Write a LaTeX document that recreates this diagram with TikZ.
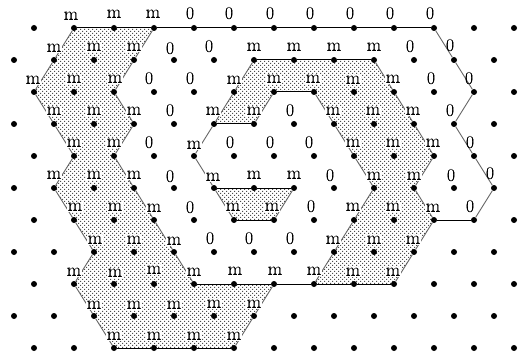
\documentclass[tikz,border=0pt]{standalone}
\usepackage{fontspec}
\newfontfamily\labfont{Latin Modern Roman}[RawFeature={embolden=0.6}]
\usetikzlibrary{patterns,backgrounds}
\pgfdeclarepatternformonly{stip}{\pgfqpoint{-0.5pt}{-0.5pt}}{\pgfqpoint{3.5pt}{3.5pt}}{\pgfqpoint{4pt}{4pt}}{%
  \pgfpathrectangle{\pgfqpoint{0pt}{0pt}}{\pgfqpoint{1pt}{1pt}}%
  \pgfpathrectangle{\pgfqpoint{2pt}{2pt}}{\pgfqpoint{1pt}{1pt}}%
  \pgfusepath{fill}}
\tikzset{
  dotnode/.style={circle,fill=black,inner sep=0pt,minimum size=6pt},
  lab/.style={inner sep=0.8pt,font=\labfont\fontsize{18.5}{18.5}\selectfont,text height=7.6pt,text depth=0pt,fill=white},
  zero/.style={inner sep=0pt,font=\labfont\fontsize{18}{18}\selectfont},
  shade/.style={pattern=stip,pattern color=black!70},
  hedge/.style={black,line width=1pt},
  dedge/.style={black!60,line width=0.9pt},
}
\begin{document}
\begin{tikzpicture}[x=1pt,y=-1pt]
\useasboundingbox (0,0) rectangle (529,358);
% dots
\foreach \y in {28,92,156,220,284,348}
  \foreach \x in {34,74,...,514}
    \node[dotnode] (p\x-\y) at (\x,\y) {};
\foreach \y in {60,124,188,252,316}
  \foreach \x in {14,54,...,494}
    \node[dotnode] (p\x-\y) at (\x,\y) {};
% shaded regions
\begin{pgfonlayer}{background}
\fill[shade] (p74-28.center) -- (p154-28.center) -- (p134-60.center) -- (p114-92.center) -- (p134-124.center) -- (p114-156.center) -- (p134-188.center) -- (p154-220.center) -- (p174-252.center) -- (p194-284.center) -- (p274-284.center) -- (p254-316.center) -- (p234-348.center) -- (p114-348.center) -- (p94-316.center) -- (p74-284.center) -- (p94-252.center) -- (p74-220.center) -- (p54-188.center) -- (p74-156.center) -- (p54-124.center) -- (p34-92.center) -- (p54-60.center) -- cycle;
\fill[shade] (p254-60.center) -- (p374-60.center) -- (p394-92.center) -- (p414-124.center) -- (p434-156.center) -- (p414-188.center) -- (p434-220.center) -- (p394-284.center) -- (p314-284.center) -- (p334-252.center) -- (p354-220.center) -- (p374-188.center) -- (p354-156.center) -- (p334-124.center) -- (p314-92.center) -- (p274-92.center) -- (p254-124.center) -- (p214-124.center) -- (p234-92.center) -- cycle;
\fill[shade] (p214-188.center) -- (p294-188.center) -- (p274-220.center) -- (p234-220.center) -- cycle;
\end{pgfonlayer}
% horizontal edges
\draw[hedge] (p74-28) -- (p114-28) -- (p154-28) -- (p194-28) -- (p234-28) -- (p274-28) -- (p314-28) -- (p354-28) -- (p394-28) -- (p434-28);
\draw[hedge] (p254-60) -- (p294-60) -- (p334-60) -- (p374-60);
\draw[hedge] (p274-92) -- (p314-92);
\draw[hedge] (p214-124) -- (p254-124);
\draw[hedge] (p214-188) -- (p254-188) -- (p294-188);
\draw[hedge] (p234-220) -- (p274-220);
\draw[hedge] (p434-220) -- (p474-220);
\draw[hedge] (p194-284) -- (p234-284) -- (p274-284) -- (p314-284) -- (p354-284) -- (p394-284);
\draw[hedge] (p114-348) -- (p154-348) -- (p194-348) -- (p234-348);
% diagonal edges
\draw[dedge] (p74-28) -- (p54-60) -- (p34-92) -- (p54-124) -- (p74-156) -- (p54-188) -- (p74-220) -- (p94-252) -- (p74-284) -- (p94-316) -- (p114-348);
\draw[dedge] (p154-28) -- (p134-60) -- (p114-92) -- (p134-124) -- (p114-156) -- (p134-188) -- (p154-220) -- (p174-252) -- (p194-284);
\draw[dedge] (p274-284) -- (p254-316) -- (p234-348);
\draw[dedge] (p434-28) -- (p454-60) -- (p474-92) -- (p454-124) -- (p474-156) -- (p494-188) -- (p474-220);
\draw[dedge] (p254-60) -- (p234-92) -- (p214-124) -- (p194-156) -- (p214-188) -- (p234-220);
\draw[dedge] (p294-188) -- (p274-220);
\draw[dedge] (p274-92) -- (p254-124);
\draw[dedge] (p374-60) -- (p394-92) -- (p414-124) -- (p434-156) -- (p414-188) -- (p434-220) -- (p414-252) -- (p394-284);
\draw[dedge] (p314-92) -- (p334-124) -- (p354-156) -- (p374-188) -- (p354-220) -- (p334-252) -- (p314-284);
% labels m
\foreach \i/\x/\y in {a/71/16,b/114/14,c/153/14,
 d/54/48,e/94/47,f/134/47,g/254/47,h/294/47,i/334/47,j/374/47,
 k/33/80,l/74/79,n/115/79,o/234/80,p/274/79,q/313/79,r/353/80,s/393/79,
 t/54/111,u/94/111,v/134/111,w/213/111,x/254/111,y/333/111,z/373/111,A/413/111,
 B/74/143,C/114/143,D/194/145,E/353/143,F/393/143,G/433/143,
 H/54/175,I/94/175,J/134/175,K/213/177,L/254/175,M/294/175,N/374/176,O/414/176,
 P/75/207,Q/115/207,R/154/208,S/233/207,T/272/207,U/353/207,V/393/207,W/433/208,
 X/95/240,Y/134/240,Z/174/241,aa/333/240,ab/374/240,ac/413/240,
 ad/74/272,ae/115/273,af/154/270,ag/194/272,ah/235/271,ai/275/271,aj/314/271,ak/353/272,al/393/272,
 am/94/305,an/134/305,ao/174/305,ap/214/304,aq/254/304,
 ar/114/336,as/154/336,at/194/336,au/234/336}
  \node[lab] (m\i) at (\x,\y) {m};
% labels 0
\foreach \i/\x/\y in {a/190/13,b/229/13,c/270/13,d/310/13,e/350/13,f/390/13,g/430/13,
 h/170/48,i/209/46,j/410/46,k/450/45,
 l/149/78,n/190/78,o/431/78,p/469/78,
 q/170/110,r/290/110,s/450/110,
 t/149/142,u/230/142,v/270/142,w/309/142,x/470/142,
 y/170/176,z/330/175,A/451/175,B/490/173,
 C/190/207,D/311/206,E/470/206,
 F/210/238,G/249/238,H/290/238}
  \node[zero] (z\i) at (\x,\y) {0};
\end{tikzpicture}
\end{document}
